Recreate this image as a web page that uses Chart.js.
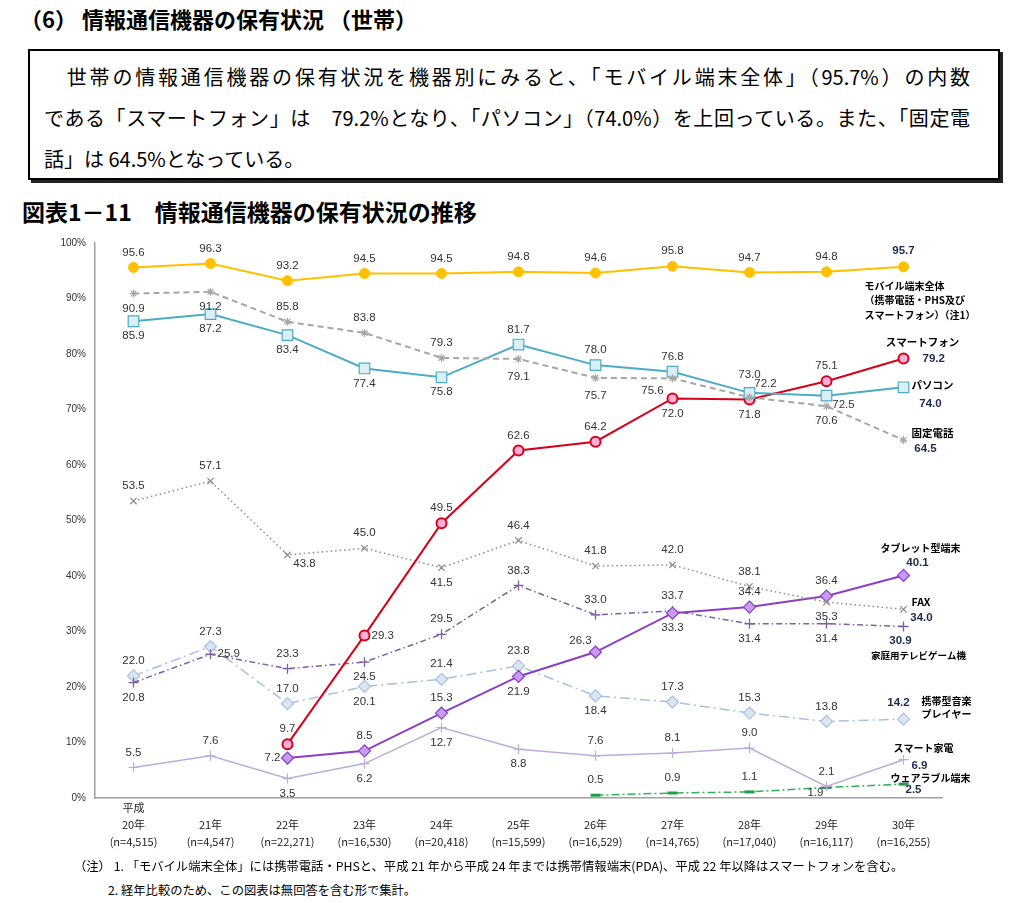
<!DOCTYPE html>
<html lang="ja">
<head>
<meta charset="utf-8">
<script src="https://cdn.jsdelivr.net/npm/chart.js@4.4.1/dist/chart.umd.min.js"></script>
<style>
body { margin:0; width:1023px; height:903px; background:#fff; position:relative; overflow:hidden;
       font-family:"Noto Sans CJK JP", "Noto Sans", sans-serif; color:#000; }
.head { position:absolute; left:20px; top:3px; font-size:22px; font-weight:bold; line-height:30px; }
.box { position:absolute; left:28px; top:49px; width:972px; height:131px; border:2px solid #000;
       box-shadow:3px 3px 0 #222; box-sizing:border-box; }
.box div { position:absolute; left:14px; width:926px; font-size:20px; line-height:41px; white-space:nowrap; }
.box .j { text-align:justify; text-align-last:justify; }
.title { position:absolute; left:22px; top:195px; font-size:23px; font-weight:bold; line-height:32px; }
#wrap { position:absolute; left:0; top:228px; width:1023px; height:632px; }
.note { position:absolute; font-size:12.3px; line-height:18px; white-space:nowrap; }
</style>
</head>
<body>
<div class="head">（6） 情報通信機器の保有状況 （世帯）</div>
<div class="box">
  <div class="j" style="top:5px">　世帯の情報通信機器の保有状況を機器別にみると、「モバイル端末全体」（95.7%）の内数</div>
  <div class="j" style="top:46px">である「スマートフォン」は　79.2%となり、「パソコン」（74.0%）を上回っている。また、「固定電</div>
  <div style="top:87px">話」は 64.5%となっている。</div>
</div>
<div class="title">図表1－11　情報通信機器の保有状況の推移</div>
<div id="wrap"><canvas id="chart" width="1023" height="632"></canvas></div>
<div class="note" style="left:74px; top:857px">（注） 1. 「モバイル端末全体」には携帯電話・PHSと、平成 21 年から平成 24 年までは携帯情報端末(PDA)、平成 22 年以降はスマートフォンを含む。</div>
<div class="note" style="left:108px; top:881px">2. 経年比較のため、この図表は無回答を含む形で集計。</div>

<script>
// categories (平成 years + sample sizes)
const years = ['20年', '21年', '22年', '23年', '24年', '25年', '26年', '27年', '28年', '29年', '30年'];
const sampleSizes = ['(n=4,515)', '(n=4,547)', '(n=22,271)', '(n=16,530)', '(n=20,418)', '(n=15,599)',
                     '(n=16,529)', '(n=14,765)', '(n=17,040)', '(n=16,117)', '(n=16,255)'];
const yTicks = [0, 10, 20, 30, 40, 50, 60, 70, 80, 90, 100];

// series values (%)
const mobile     = [95.6, 96.3, 93.2, 94.5, 94.5, 94.8, 94.6, 95.8, 94.7, 94.8, 95.7];
const fixedPhone = [90.9, 91.2, 85.8, 83.8, 79.3, 79.1, 75.7, 75.6, 72.2, 70.6, 64.5];
const pc         = [85.9, 87.2, 83.4, 77.4, 75.8, 81.7, 78.0, 76.8, 73.0, 72.5, 74.0];
const smartphone = [null, null, 9.7, 29.3, 49.5, 62.6, 64.2, 72.0, 71.8, 75.1, 79.2];
const fax        = [53.5, 57.1, 43.8, 45.0, 41.5, 46.4, 41.8, 42.0, 38.1, 35.3, 34.0];
const tablet     = [null, null, 7.2, 8.5, 15.3, 21.9, 26.3, 33.3, 34.4, 36.4, 40.1];
const gameConsole= [20.8, 25.9, 23.3, 24.5, 29.5, 38.3, 33.0, 33.7, 31.4, 31.4, 30.9];
const musicPlayer= [22.0, 27.3, 17.0, 20.1, 21.4, 23.8, 18.4, 17.3, 15.3, 13.8, 14.2];
const smartHome  = [5.5, 7.6, 3.5, 6.2, 12.7, 8.8, 7.6, 8.1, 9.0, 2.1, 6.9];
const wearable   = [null, null, null, null, null, null, 0.5, 0.9, 1.1, 1.9, 2.5];

// value label placement per point (t/b/l/r/tl/tr/bl/br), last point uses end offset
const offsets = {
  t: [0, -15, 'center'], b: [0, 15, 'center'], l: [-7, 0, 'right'], r: [7, 0, 'left'],
  tl: [-15, -11, 'center'], tr: [16, -13, 'center'], bl: [-20, 12, 'center'],
  br: [17, 9, 'center'], bl2: [-11, 5, 'center'], tt: [0, -18, 'center'], bb: [0, 18, 'center']
};

const xLabels = years.map((y, i) => [i === 0 ? '平成' : '', y, sampleSizes[i]]);

const series = [
  { label: 'モバイル端末全体', data: mobile, color: '#FFC000', width: 2, dash: [],
    point: 'circle', radius: 5, fill: '#FFC000', pointWidth: 1,
    pos: ['t','t','t','t','t','t','t','t','t','t'], end: [0, -16],
    name: ['モバイル端末全体', '（携帯電話・PHS及び', 'スマートフォン）（注1）'], nameAt: [-39, 19, 'left', 14.5], nameSize: 10 },
  { label: '固定電話', data: fixedPhone, color: '#A6A6A6', width: 2, dash: [6, 4],
    point: 'star', radius: 4, fill: '#A6A6A6', pointWidth: 1.2,
    pos: ['b','b','t','t','t','bb','bb','bl','tr','b'], end: [22, 9],
    name: ['固定電話'], nameAt: [29, -7, 'center', 0], nameSize: 10.5 },
  { label: 'パソコン', data: pc, color: '#4BACC6', width: 2, dash: [],
    point: 'rect', radius: 7.5, fill: '#DAEEF3', pointWidth: 1.2,
    pos: ['b','b','b','b','b','t','t','t','tt','br'], end: [27, 17],
    name: ['パソコン'], nameAt: [29, -2, 'center', 0], nameSize: 10.5 },
  { label: 'スマートフォン', data: smartphone, color: '#D7001A', width: 2, dash: [],
    point: 'circle', radius: 5, fill: '#FFB0DA', pointWidth: 2,
    pos: [null,null,'t','r','t','t','t','b','b','t'], end: [19, 0, 'left'],
    name: ['スマートフォン'], nameAt: [19, -16, 'center', 0], nameSize: 10.5 },
  { label: 'FAX', data: fax, color: '#8C8C8C', width: 1.5, dash: [1.5, 3],
    point: 'crossRot', radius: 4.5, fill: '#8C8C8C', pointWidth: 1.2,
    pos: ['t','t','br','t','b','t','t','t','t','b'], end: [18, 9],
    name: ['FAX'], nameAt: [8, -7, 'left', 0], nameSize: 10.5 },
  { label: 'タブレット型端末', data: tablet, color: '#8A3FC6', width: 2, dash: [],
    point: 'rectRot', radius: 6, fill: '#C79BF2', pointWidth: 1.2,
    pos: [null,null,'l','t','t','b','tl','b','t','t'], end: [14, -13],
    name: ['タブレット型端末'], nameAt: [17, -27, 'center', 0], nameSize: 10 },
  { label: '家庭用テレビゲーム機', data: gameConsole, color: '#7F5FA0', width: 1.5, dash: [6, 3, 1.5, 3],
    point: 'cross', radius: 5, fill: '#6B4E8C', pointWidth: 1.3,
    pos: ['b','r','t','b','t','t','t','t','b','b'], end: [-3, 14],
    name: ['家庭用テレビゲーム機'], nameAt: [15, 29, 'center', 0], nameSize: 9.5 },
  { label: '携帯型音楽プレイヤー', data: musicPlayer, color: '#A9C1E1', width: 1.5, dash: [10, 4, 2, 4],
    point: 'rectRot', radius: 6, fill: '#DCE6F2', pointWidth: 1.2,
    pos: ['t','t','t','b','t','t','b','t','t','t'], end: [-5, -16],
    name: ['携帯型音楽', 'プレイヤー'], nameAt: [18, -18, 'left', 13], nameSize: 10 },
  { label: 'スマート家電', data: smartHome, color: '#BCADD8', width: 1.5, dash: [],
    point: 'cross', radius: 5, fill: '#A593C8', pointWidth: 1.2,
    pos: ['t','t','b','b','b','b','t','t','t','t'], end: [16, 6],
    name: ['スマート家電'], nameAt: [20, -12, 'center', 0], nameSize: 10 },
  { label: 'ウェアラブル端末', data: wearable, color: '#2DB35A', width: 1.5, dash: [8, 3, 2, 3],
    point: 'line', radius: 5, fill: '#1E9E48', pointWidth: 3,
    pos: [null,null,null,null,null,null,'t','t','t','bl2'], end: [10, 6],
    name: ['ウェアラブル端末'], nameAt: [27, -6, 'center', 0], nameSize: 10 }
];

const valueLabels = {
  id: 'valueLabels',
  afterDatasetsDraw(chart) {
    const ctx = chart.ctx;
    ctx.save();
    ctx.textBaseline = 'middle';
    series.forEach((s, i) => {
      const meta = chart.getDatasetMeta(i);
      const last = s.data.length - 1;
      meta.data.forEach((pt, j) => {
        const v = s.data[j];
        if (v == null) return;
        let dx, dy, align;
        if (j === last) {
          [dx, dy, align] = s.end;
          align = align || 'center';
          ctx.font = 'bold 11.5px "Liberation Sans", Arial, sans-serif';
          ctx.fillStyle = '#1d2b4f';
        } else {
          [dx, dy, align] = offsets[s.pos[j]];
          ctx.font = '11.5px "Liberation Sans", Arial, sans-serif';
          ctx.fillStyle = '#333';
        }
        ctx.textAlign = align;
        ctx.fillText(v.toFixed(1), pt.x + dx, pt.y + dy);
      });
      // series name next to the last point
      const lp = meta.data[last];
      const [nx, ny, nalign, gap] = s.nameAt;
      ctx.font = 'bold ' + s.nameSize + 'px "Noto Sans CJK JP", sans-serif';
      ctx.fillStyle = '#000';
      ctx.textAlign = nalign;
      s.name.forEach((line, k) => ctx.fillText(line, lp.x + nx, lp.y + ny + k * gap));
    });
    ctx.restore();
  }
};

new Chart(document.getElementById('chart'), {
  type: 'line',
  data: {
    labels: xLabels,
    datasets: series.map(s => ({
      label: s.label,
      data: s.data,
      borderColor: s.color,
      borderWidth: s.width,
      borderDash: s.dash,
      tension: 0,
      fill: false,
      spanGaps: false,
      pointStyle: s.point,
      pointRadius: s.radius,
      pointHoverRadius: s.radius,
      pointBackgroundColor: s.fill,
      pointBorderColor: s.point === 'line' ? s.fill : s.color,
      pointBorderWidth: s.pointWidth
    }))
  },
  options: {
    responsive: false,
    animation: false,
    devicePixelRatio: 1,
    layout: { padding: { top: 12, right: 81, left: 0, bottom: 0 } },
    plugins: { legend: { display: false }, tooltip: { enabled: false } },
    scales: {
      x: {
        offset: true,
        grid: { display: false, drawTicks: false },
        border: { display: true, color: '#A0A0A0', width: 1.5 },
        ticks: {
          autoSkip: false, maxRotation: 0, padding: 1.5, color: '#222',
          font: { family: '"Noto Sans CJK JP", sans-serif', size: 11, lineHeight: 1.55 }
        },
        afterFit: s => { s.height = 62; }
      },
      y: {
        min: 0, max: 100,
        afterBuildTicks: s => { s.ticks = yTicks.map(v => ({ value: v })); },
        grid: { display: false, drawTicks: false },
        border: { display: true, color: '#A0A0A0', width: 1.5 },
        ticks: {
          padding: 9, color: '#333',
          font: { family: '"Liberation Sans", Arial, sans-serif', size: 10 },
          callback: v => v + '%'
        },
        afterFit: s => { s.width = 95; }
      }
    }
  },
  plugins: [valueLabels]
});
</script>
</body>
</html>
